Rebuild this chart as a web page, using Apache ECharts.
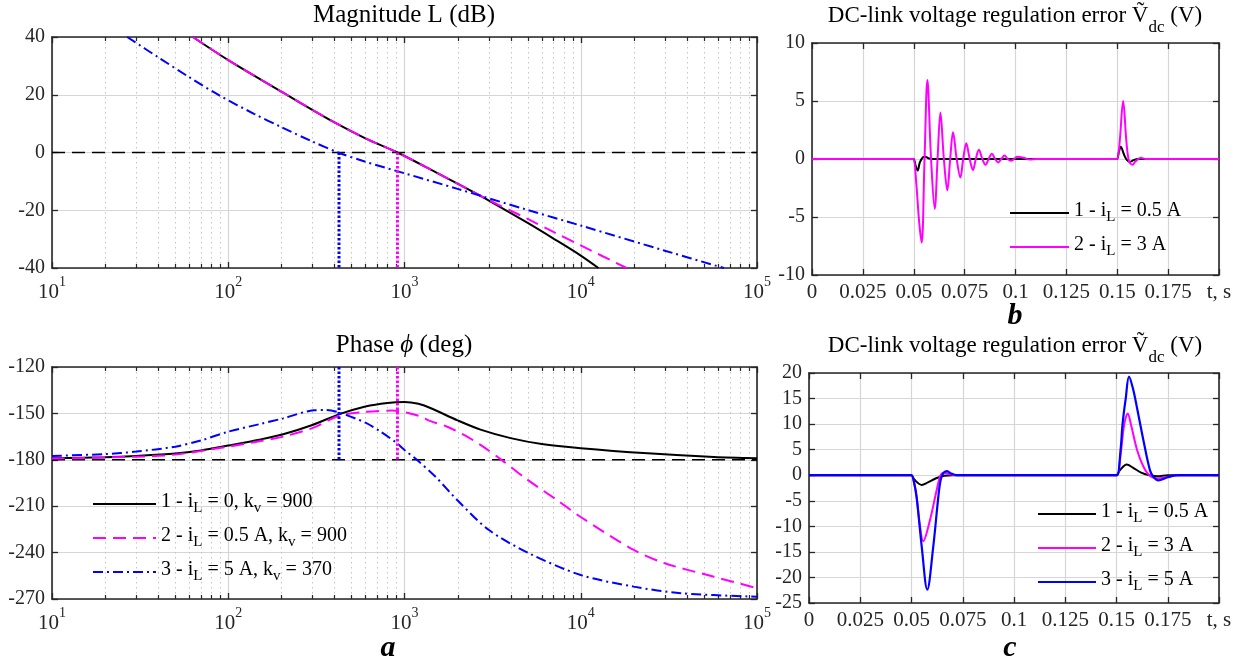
<!DOCTYPE html>
<html><head><meta charset="utf-8">
<script src="https://cdn.jsdelivr.net/npm/echarts@6/dist/echarts.min.js"></script>
<style>html,body{margin:0;padding:0;background:#fff}#c{width:1243px;height:663px}</style>
</head><body><div id="c"></div>
<script>
// ================= DATA =================
// Bode magnitude (frequency, dB)
const magFreq1 = [63, 100, 205, 300, 396, 600, 912, 1500, 2290, 3083, 5000, 7000, 10000, 12600];
const magL1    = [40, 32, 20.7, 14.8, 10.6, 4.9, 0, -6.8, -12.7, -17, -24.4, -29.8, -35.7, -40];
const magFreq2 = [63, 100, 205, 300, 396, 600, 912, 1500, 2290, 3083, 5000, 7000, 10000, 18200];
const magL2    = [40, 32, 20.7, 14.8, 10.6, 4.9, 0, -6.8, -12.7, -16.8, -23, -27.5, -32.2, -40];
const magFreq3 = [26.7, 40, 60, 90, 140, 200, 300, 420, 600, 1000, 2000, 5000, 10000, 30000, 64900];
const magL3    = [40, 33, 26.1, 19.6, 13.4, 8.8, 3.8, 0, -3.2, -7.2, -12.6, -19.9, -25.3, -34, -40];
// Bode phase (frequency, deg)
const phFreq1 = [10, 20, 30, 50, 70, 100, 150, 205, 300, 427, 600, 800, 1000, 1200, 1400, 2000, 2700, 4000, 6000, 10000, 24000, 57000, 100000];
const ph1     = [-179, -178.3, -177.5, -176, -174, -170.8, -167, -163.5, -157.5, -150.5, -145.5, -143.2, -142.6, -143.8, -146.5, -154.5, -160.5, -166, -169.8, -172.5, -175.8, -178.2, -179];
const phFreq2 = [10, 30, 50, 100, 150, 205, 300, 427, 600, 850, 1200, 1406, 1750, 2175, 2700, 3600, 5000, 7540, 10000, 20000, 30000, 57000, 100000];
const ph2     = [-179.2, -178, -176.6, -171.5, -168, -165, -159.5, -151.5, -149, -148.2, -151.5, -155, -158.6, -163.9, -170.4, -180.5, -193, -207, -217, -238.3, -246.9, -255.6, -263];
const phFreq3 = [10, 20, 30, 50, 70, 100, 150, 205, 305, 360, 427, 600, 731, 900, 1000, 1175, 1500, 1990, 3013, 5080, 10000, 20000, 37000, 100000];
const ph3     = [-177.5, -176.3, -174.7, -171.5, -167.5, -161.8, -157, -153.2, -148, -147.8, -149.5, -156, -161.8, -169, -173.6, -180, -191, -206, -225.4, -240.4, -254.5, -262, -266.3, -268.5];
// crossover frequencies (dotted markers)
const crossFreq = [425, 912];
// minor log grid values
const minorFreq = [20,30,40,50,60,70,80,90,200,300,400,500,600,700,800,900,2000,3000,4000,5000,6000,7000,8000,9000,20000,30000,40000,50000,60000,70000,80000,90000];

// Time responses, panel b (t in s, V)
const tB1 = [0, 0.0495, 0.05, 0.0508, 0.0519, 0.053, 0.0545, 0.0556, 0.0575, 0.06, 0.1495, 0.15, 0.1508, 0.1517, 0.1535, 0.1548, 0.1562, 0.158, 0.16, 0.2];
const vB1 = [0, 0, 0, -0.5, -1.0, -0.3, 0.15, 0.2, 0.05, 0, 0, 0, 0.6, 1.05, 0.3, -0.1, -0.25, -0.1, 0, 0];
const tB2 = [0, 0.0495, 0.05, 0.0512, 0.0527, 0.0539, 0.0553, 0.0567, 0.0585, 0.0603, 0.0617, 0.0631, 0.0648, 0.0665, 0.0679, 0.0693, 0.0711, 0.0729, 0.0743, 0.0758, 0.0775, 0.0791, 0.0805, 0.082, 0.0837, 0.0853, 0.0868, 0.0884, 0.09, 0.0915, 0.093, 0.0946, 0.0962, 0.0977, 0.0993, 0.1008, 0.104, 0.107, 0.11, 0.1495, 0.15, 0.1512, 0.1529, 0.1545, 0.1558, 0.1575, 0.159, 0.1616, 0.164, 0.2];
const vB2 = [0, 0, 0, -2, -5.5, -7.2, 0, 6.8, 0, -4.3, 0, 4.0, 0, -2.7, 0, 2.3, 0, -1.6, 0, 1.35, 0, -0.95, 0, 0.8, 0, -0.5, 0, 0.45, 0, -0.3, 0, 0.3, 0, -0.15, 0, 0.2, 0.1, -0.05, 0, 0, 0, 1.5, 5.0, 1.5, -0.2, -0.5, -0.2, 0.1, 0, 0];
// Time responses, panel c
const tC1 = [0, 0.0495, 0.05, 0.0515, 0.055, 0.058, 0.062, 0.066, 0.07, 0.1495, 0.15, 0.1515, 0.155, 0.158, 0.162, 0.166, 0.17, 0.175, 0.2];
const vC1 = [0, 0, 0, -0.9, -1.9, -1.4, -0.6, -0.1, 0, 0, 0, 0.9, 2.1, 1.5, 0.5, 0, -0.2, 0, 0];
const tC2 = [0, 0.0495, 0.05, 0.0513, 0.0525, 0.054, 0.0557, 0.059, 0.0623, 0.0642, 0.066, 0.0685, 0.072, 0.1495, 0.1505, 0.152, 0.1538, 0.1555, 0.157, 0.16, 0.163, 0.166, 0.17, 0.175, 0.18, 0.2];
const vC2 = [0, 0, 0, -1.5, -4.3, -9.5, -12.9, -8.8, -2.9, 0, 0.5, 0.2, 0, 0, 0, 4, 10, 12.1, 10, 5, 1.8, 0, -0.6, -0.3, 0, 0];
const tC3 = [0, 0.0495, 0.05, 0.0513, 0.0525, 0.055, 0.0577, 0.0606, 0.0631, 0.0642, 0.0655, 0.0672, 0.069, 0.072, 0.1495, 0.1504, 0.152, 0.153, 0.1545, 0.1561, 0.158, 0.1599, 0.1631, 0.1663, 0.168, 0.1704, 0.175, 0.18, 0.2];
const vC3 = [0, 0, 0, -1.5, -4.3, -14, -22.4, -14, -4.2, -1, 0.4, 0.8, 0.4, 0, 0, 0, 5, 10.2, 15, 19.3, 17, 13.4, 6.9, 1.0, -0.3, -1.0, -0.4, 0, 0];

// Names / labels
const bodeNames = ['1 - iL = 0, kv = 900', '2 - iL = 0.5 A, kv = 900', '3 - iL = 5 A, kv = 370'];
const timeNames = ['1 - iL = 0.5 A', '2 - iL = 3 A', '3 - iL = 5 A'];
const magTicks = {min: -40, max: 40, interval: 20};
const phTicks = {min: -270, max: -120, interval: 30};
const bTicks = {min: -10, max: 10, interval: 5};
const cTicks = {min: -25, max: 20, interval: 5};
const tTicks = {min: 0, max: 0.2, interval: 0.025};

// ================= CHART =================
const FONT = 'Liberation Serif';
const AX = '#262626';
const GRIDC = '#d6d6d6';
const BLACK = '#000000', MAG = '#ff00ff', BLUE = '#0000ff';
const pairs = (xs, ys) => xs.map((x, i) => [x, ys[i]]);

function richName(n) {
  return '{t|' + n.replace(/\b([ik])([Lv])\b/g, '$1}{s|$2}{t|') + '}';
}

function logX(gi, pos, main) {
  return {
    type: 'log', logBase: 10, gridIndex: gi, position: pos, min: 10, max: 100000,
    axisLine: {show: true, onZero: false, lineStyle: {color: AX, width: 1.6}},
    axisTick: {show: true, inside: true, length: 6, lineStyle: {color: AX, width: 1.3}},
    splitLine: {show: main, lineStyle: {color: GRIDC, width: 1.2}},
    axisLabel: {
      show: main, margin: 7, color: AX,
      formatter: v => '{b|10}{s|' + Math.round(Math.log10(v)) + '}',
      rich: {
        b: {fontFamily: FONT, fontSize: 21, color: AX, lineHeight: 28, verticalAlign: 'bottom'},
        s: {fontFamily: FONT, fontSize: 14, color: AX, lineHeight: 28, verticalAlign: 'top'}
      }
    }
  };
}
function valX(gi, pos, main) {
  return {
    type: 'value', gridIndex: gi, position: pos, min: tTicks.min, max: tTicks.max, interval: tTicks.interval,
    axisLine: {show: true, onZero: false, lineStyle: {color: AX, width: 1.6}},
    axisTick: {show: true, inside: true, length: 6, lineStyle: {color: AX, width: 1.3}},
    splitLine: {show: main, lineStyle: {color: GRIDC, width: 1.2}},
    axisLabel: {
      show: main, margin: 7, color: AX, fontFamily: FONT, fontSize: 21,
      formatter: v => Math.abs(v - 0.2) < 1e-9 ? 't, s' : String(+v.toFixed(3))
    }
  };
}
function valY(gi, pos, main, t) {
  return {
    type: 'value', gridIndex: gi, position: pos, min: t.min, max: t.max, interval: t.interval,
    axisLine: {show: true, onZero: false, lineStyle: {color: AX, width: 1.6}},
    axisTick: {show: true, inside: true, length: 6, lineStyle: {color: AX, width: 1.3}},
    splitLine: {show: main, lineStyle: {color: GRIDC, width: 1.2}},
    axisLabel: {show: main, margin: 7, color: AX, fontFamily: FONT, fontSize: 20}
  };
}
function minorSeries(xi, yi, yv) {
  return {
    type: 'custom', xAxisIndex: xi, yAxisIndex: yi, silent: true, z: 1,
    data: minorFreq.map(f => [f, yv]),
    renderItem(params, api) {
      const p = api.coord([api.value(0), api.value(1)]);
      const cs = params.coordSys;
      const x = Math.round(p[0]) + 0.5, y0 = cs.y, y1 = cs.y + cs.height;
      return {type: 'group', children: [
        {type: 'line', shape: {x1: x, y1: y0, x2: x, y2: y1}, style: {stroke: '#c4c4c4', lineWidth: 1, lineDash: [1.5, 3.5]}},
        {type: 'line', shape: {x1: x, y1: y0, x2: x, y2: y0 + 4}, style: {stroke: AX, lineWidth: 1.2}},
        {type: 'line', shape: {x1: x, y1: y1, x2: x, y2: y1 - 4}, style: {stroke: AX, lineWidth: 1.2}}
      ]};
    }
  };
}
function line(name, xi, yi, data, color, type, width, smooth) {
  return {
    name: name, type: 'line', xAxisIndex: xi, yAxisIndex: yi, data: data,
    symbol: 'none', smooth: smooth === undefined ? 0.3 : smooth, z: 3,
    lineStyle: {color: color, width: width || 2, type: type || 'solid', cap: 'butt'},
    itemStyle: {color: color}
  };
}
const DASH = [13, 7];
const DASHDOT = [10, 4, 2, 4];
const DOT = [2.5, 2];

const titleStyle = (size) => ({fontFamily: FONT, fontSize: size, fontWeight: 'normal', color: '#000',
  rich: {
    t: {fontFamily: FONT, fontSize: size, color: '#000', lineHeight: 32, verticalAlign: 'top'},
    i: {fontFamily: FONT, fontSize: size, fontStyle: 'italic', color: '#000', lineHeight: 32, verticalAlign: 'top'},
    s: {fontFamily: FONT, fontSize: Math.round(size * 0.72), color: '#000', lineHeight: 32, verticalAlign: 'bottom'}
  }});
const letterStyle = {fontFamily: FONT, fontSize: 30, fontWeight: 'bold', fontStyle: 'italic', color: '#000'};

const legendRich = {
  t: {fontFamily: FONT, fontSize: 20, color: '#000', lineHeight: 24, verticalAlign: 'top'},
  s: {fontFamily: FONT, fontSize: 15, color: '#000', lineHeight: 24, verticalAlign: 'bottom'}
};
function legend(names, left, top, w) {
  return {
    data: names, left: left, top: top, orient: 'vertical', itemWidth: w, itemHeight: 14, itemGap: 10,
    padding: 0, selectedMode: false, backgroundColor: 'transparent',
    itemStyle: {opacity: 0},
    formatter: richName,
    textStyle: {fontFamily: FONT, fontSize: 20, color: '#000', rich: legendRich}
  };
}

const option = {
  animation: false,
  backgroundColor: '#ffffff',
  title: [
    {text: 'Magnitude L (dB)', left: 404, top: 3, textAlign: 'center', padding: 0, textStyle: titleStyle(25)},
    {text: '{t|Phase }{i|ϕ}{t| (deg)}', left: 404, top: 333, textAlign: 'center', padding: 0, textStyle: titleStyle(25)},
    {text: '{t|DC-link voltage regulation error Ṽ}{s|dc}{t| (V)}', left: 1015, top: 4, textAlign: 'center', padding: 0, textStyle: titleStyle(23)},
    {text: '{t|DC-link voltage regulation error Ṽ}{s|dc}{t| (V)}', left: 1015, top: 334, textAlign: 'center', padding: 0, textStyle: titleStyle(23)},
    {text: 'a', left: 388, top: 633, textAlign: 'center', padding: 0, textStyle: letterStyle},
    {text: 'b', left: 1015, top: 301, textAlign: 'center', padding: 0, textStyle: letterStyle},
    {text: 'c', left: 1010, top: 633, textAlign: 'center', padding: 0, textStyle: letterStyle}
  ],
  legend: [
    legend(bodeNames, 92, 492, 63),
    legend(timeNames.slice(0, 2), 1009, 201, 59),
    legend(timeNames, 1037, 502, 58)
  ],
  grid: [
    {left: 52, top: 37, width: 705, height: 231},
    {left: 52, top: 367, width: 705, height: 232},
    {left: 812, top: 43, width: 407, height: 232},
    {left: 809, top: 373, width: 410, height: 230}
  ],
  xAxis: [
    logX(0, 'bottom', true), logX(0, 'top', false),
    logX(1, 'bottom', true), logX(1, 'top', false),
    valX(2, 'bottom', true), valX(2, 'top', false),
    valX(3, 'bottom', true), valX(3, 'top', false)
  ],
  yAxis: [
    valY(0, 'left', true, magTicks), valY(0, 'right', false, magTicks),
    valY(1, 'left', true, phTicks), valY(1, 'right', false, phTicks),
    valY(2, 'left', true, bTicks), valY(2, 'right', false, bTicks),
    valY(3, 'left', true, cTicks), valY(3, 'right', false, cTicks)
  ],
  series: [
    minorSeries(0, 0, magTicks.min),
    minorSeries(2, 2, phTicks.min),
    line('ref0', 0, 0, [[10, 0], [100000, 0]], BLACK, DASH, 1.6, false),
    line('ref1', 2, 2, [[10, -180], [100000, -180]], BLACK, DASH, 1.6, false),
    line(bodeNames[0], 0, 0, pairs(magFreq1, magL1), BLACK, 'solid', 2),
    line(bodeNames[1], 0, 0, pairs(magFreq2, magL2), MAG, DASH, 2),
    line(bodeNames[2], 0, 0, pairs(magFreq3, magL3), BLUE, DASHDOT, 2),
    line('xb0', 0, 0, [[crossFreq[0], 0], [crossFreq[0], magTicks.min]], BLUE, DOT, 3, false),
    line('xm0', 0, 0, [[crossFreq[1], 0], [crossFreq[1], magTicks.min]], MAG, DOT, 3, false),
    line(bodeNames[0], 2, 2, pairs(phFreq1, ph1), BLACK, 'solid', 2),
    line(bodeNames[1], 2, 2, pairs(phFreq2, ph2), MAG, DASH, 2),
    line(bodeNames[2], 2, 2, pairs(phFreq3, ph3), BLUE, DASHDOT, 2),
    line('xb1', 2, 2, [[crossFreq[0], phTicks.max], [crossFreq[0], -180]], BLUE, DOT, 3, false),
    line('xm1', 2, 2, [[crossFreq[1], phTicks.max], [crossFreq[1], -180]], MAG, DOT, 3, false),
    line(timeNames[0], 4, 4, pairs(tB1, vB1), BLACK, 'solid', 2, 0.35),
    line(timeNames[1], 4, 4, pairs(tB2, vB2), MAG, 'solid', 2, 0.35),
    line(timeNames[0], 6, 6, pairs(tC1, vC1), BLACK, 'solid', 2, 0.35),
    line(timeNames[1], 6, 6, pairs(tC2, vC2), MAG, 'solid', 2, 0.35),
    line(timeNames[2], 6, 6, pairs(tC3, vC3), BLUE, 'solid', 2.2, 0.35)
  ]
};
const chart = echarts.init(document.getElementById('c'), null, {renderer: 'canvas'});
chart.setOption(option);
</script>
</body></html>
